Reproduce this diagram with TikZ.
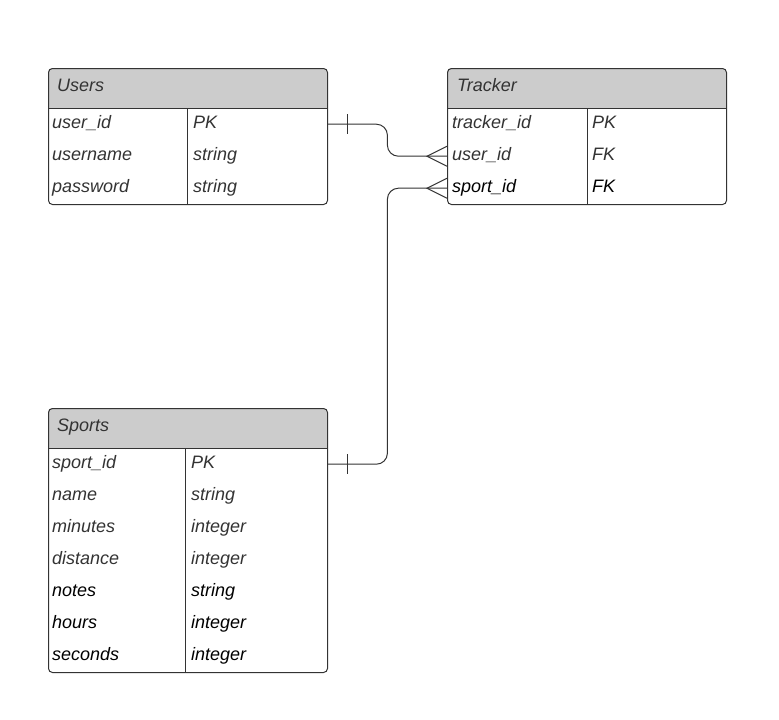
\documentclass[tikz,border=0pt]{standalone}
\usepackage{fontspec}
\setmainfont{Liberation Sans}
\usetikzlibrary{calc}
\definecolor{linec}{HTML}{333333}
\definecolor{hdrc}{HTML}{CCCCCC}
\definecolor{txtc}{HTML}{333333}
\begin{document}
\begin{tikzpicture}[x=1pt,y=-1pt,
  tblbox/.style={draw=linec, line width=1pt, rounded corners=4pt, minimum width=279pt, inner sep=0pt, anchor=north west},
  rowbox/.style={minimum width=279pt, minimum height=32pt, inner sep=0pt, anchor=north west},
  txt/.style={anchor=base west, inner sep=0pt, font=\fontsize{18}{20}\selectfont\itshape},
  conn/.style={draw=linec, line width=1pt, rounded corners=11pt},
  thin/.style={draw=linec, line width=1pt}]
\useasboundingbox (0,0) rectangle (779,720);

% ---------- Users ----------
\begin{scope}
\clip[rounded corners=4pt] (48,68) rectangle (327,204);
\fill[hdrc] (48,68) rectangle (327,108);
\end{scope}
\node[tblbox, minimum height=136pt] (users) at (48,68) {};
\node[txt, text=txtc] (usersT) at (57,91.5) {Users};
\draw[thin] (48,108) -- (327,108);
\draw[thin] (187,108) -- (187,204);
\foreach \i/\a/\b/\c in {1/user\_id/PK/txtc, 2/username/string/txtc, 3/password/string/txtc} {
  \node[rowbox] (u\i) at (48,{108+32*(\i-1)}) {};
  \node[txt, text=\c] (u\i a) at ([xshift=4pt,yshift=-4.5pt]u\i.west) {\a};
  \node[txt, text=\c] (u\i b) at ([xshift=145pt,yshift=-4.5pt]u\i.west) {\b};
}

% ---------- Tracker ----------
\begin{scope}
\clip[rounded corners=4pt] (447,68) rectangle (726,204);
\fill[hdrc] (447,68) rectangle (726,108);
\end{scope}
\node[tblbox, minimum height=136pt] (tracker) at (447,68) {};
\node[txt, text=txtc] (trackerT) at (457,91.5) {Tracker};
\draw[thin] (447,108) -- (726,108);
\draw[thin] (587,108) -- (587,204);
\foreach \i/\a/\b/\c in {1/tracker\_id/PK/txtc, 2/user\_id/FK/txtc, 3/sport\_id/FK/black} {
  \node[rowbox] (t\i) at (447,{108+32*(\i-1)}) {};
  \node[txt, text=\c] (t\i a) at ([xshift=5pt,yshift=-4.5pt]t\i.west) {\a};
  \node[txt, text=\c] (t\i b) at ([xshift=145pt,yshift=-4.5pt]t\i.west) {\b};
}

% ---------- Sports ----------
\begin{scope}
\clip[rounded corners=4pt] (48,408) rectangle (327,672);
\fill[hdrc] (48,408) rectangle (327,448);
\end{scope}
\node[tblbox, minimum height=264pt] (sports) at (48,408) {};
\node[txt, text=txtc] (sportsT) at (57,431.5) {Sports};
\draw[thin] (48,448) -- (327,448);
\draw[thin] (185,448) -- (185,672);
\foreach \i/\a/\b/\c in {1/sport\_id/PK/txtc, 2/name/string/txtc, 3/minutes/integer/txtc, 4/distance/integer/txtc, 5/notes/string/black, 6/hours/integer/black, 7/seconds/integer/black} {
  \node[rowbox] (s\i) at (48,{448+32*(\i-1)}) {};
  \node[txt, text=\c] (s\i a) at ([xshift=4pt,yshift=-4.5pt]s\i.west) {\a};
  \node[txt, text=\c] (s\i b) at ([xshift=143pt,yshift=-4.5pt]s\i.west) {\b};
}

% ---------- Connectors ----------
\draw[conn] (u1.east) -- ++(60,0) |- (t2.west);
\draw[conn] (s1.east) -- ++(60,0) |- (t3.west);
% one marks
\draw[thin] ($(u1.east)+(20,-10)$) -- ++(0,20);
\draw[thin] ($(s1.east)+(20,-10)$) -- ++(0,20);
% crow's feet
\draw[thin] ($(t2.west)+(0,-10)$) -- ($(t2.west)+(-20,0)$) -- ($(t2.west)+(0,10)$);
\draw[thin] ($(t3.west)+(0,-10)$) -- ($(t3.west)+(-20,0)$) -- ($(t3.west)+(0,10)$);
\end{tikzpicture}
\end{document}
